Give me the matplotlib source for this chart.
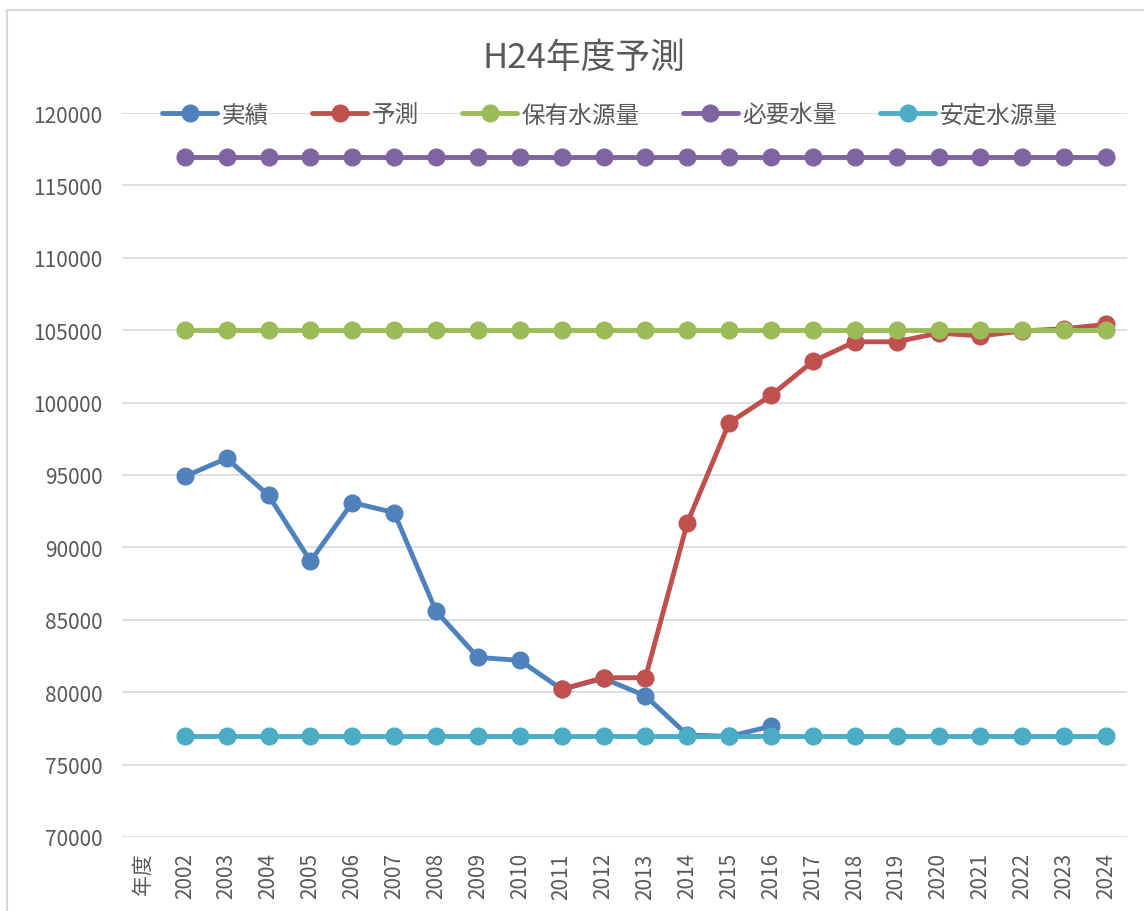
import matplotlib.pyplot as plt
from matplotlib.patches import Rectangle

plt.rcParams['font.family'] = ['Noto Sans CJK JP', 'DejaVu Sans']

# first category is the axis caption "年度", data starts at 2002
categories = ['年度'] + [str(y) for y in range(2002, 2025)]

# 実績 (2002-2016)
actual = [94900, 96150, 93600, 89050, 93100, 92400, 85600, 82400, 82200,
          80200, 80950, 79750, 77050, 76950, 77650]
# 予測 (2011-2024)
forecast = [80200, 81000, 81000, 91700, 98600, 100500, 102850, 104200,
            104200, 104800, 104600, 104950, 105100, 105400]
forecast_start = 10
supply_held = [105000] * 23
demand = [116950] * 23
stable_supply = [76950] * 23

labels = ['実績', '予測', '保有水源量', '必要水量', '安定水源量']
colors = ['#4F81BD', '#C0504D', '#9BBB59', '#8064A2', '#4BACC6']
gray = '#595959'

fig = plt.figure(figsize=(11.44, 9.12), dpi=100)
fig.patches.append(Rectangle((7 / 1144, -0.1), 1.2, 1.1 - 11 / 912,
                             transform=fig.transFigure, fill=False,
                             edgecolor='#d9d9d9', linewidth=1.5))
ax = fig.add_axes([122 / 1144, 1 - 838 / 912, 1005 / 1144, (838 - 114) / 912])

x_all = list(range(1, len(categories)))
series = [
    (list(range(1, 1 + len(actual))), actual),
    (list(range(forecast_start, forecast_start + len(forecast))), forecast),
    (x_all, supply_held),
    (x_all, demand),
    (x_all, stable_supply),
]
for (xs, ys), lab, c in zip(series, labels, colors):
    ax.plot(xs, ys, color=c, lw=3.5, marker='o', ms=12, label=lab,
            solid_capstyle='round')

ax.set_xlim(-0.5, len(categories) - 0.5)
ax.set_ylim(70000, 120000)
ax.set_yticks(range(70000, 120001, 5000))
ax.set_yticklabels([str(v) for v in range(70000, 120001, 5000)])
ax.set_xticks(range(len(categories)))
ax.set_xticklabels(categories, rotation=90)
ax.grid(axis='y', color='#d9d9d9', lw=1.2)
ax.set_axisbelow(True)
for s in ax.spines.values():
    s.set_visible(False)
ax.tick_params(axis='both', length=0, labelsize=15, colors=gray)
ax.tick_params(axis='y', pad=14)
ax.tick_params(axis='x', pad=11)

fig.text(584 / 1144, 1 - 58 / 912, 'H24年度予測', ha='center', va='center',
         fontsize=25, color=gray)

fig.legend(loc='center', bbox_to_anchor=(610 / 1144, 1 - 116 / 912), ncol=5,
           frameon=False, fontsize=17, handlelength=2.3, columnspacing=1.85,
           handletextpad=0.2, labelcolor=gray)

fig.savefig('out.png', dpi=100, facecolor='white')
